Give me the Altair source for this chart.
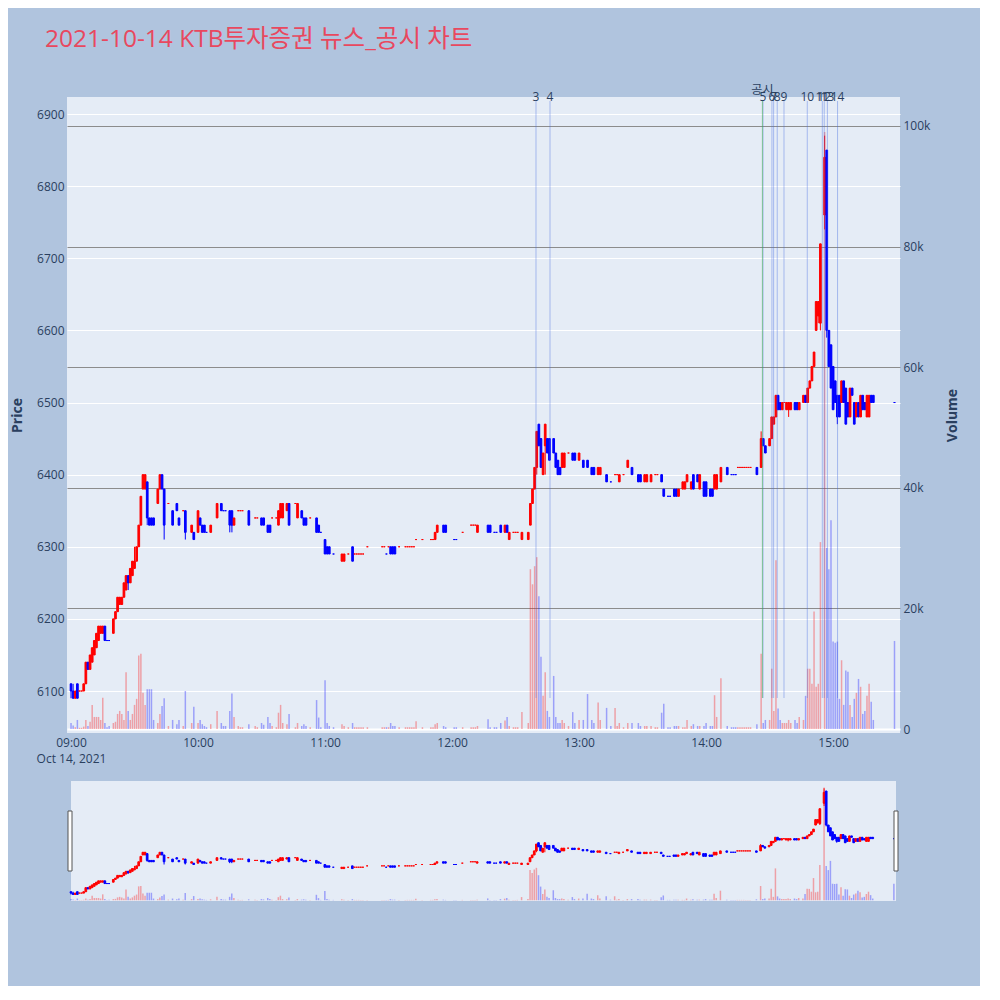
import altair as alt
import pandas as pd

TITLE = "2021-10-14 KTB투자증권 뉴스_공시 차트"

# minutes after 09:00 of each one-minute candle
minute = [
    0, 1, 2, 3, 4, 5, 6, 7, 8, 9,
    10, 11, 12, 13, 14, 15, 16, 17, 18, 20,
    21, 22, 23, 24, 25, 26, 27, 28, 29, 30,
    31, 32, 33, 34, 35, 36, 37, 38, 39, 41,
    42, 43, 44, 46, 48, 50, 51, 53, 54, 57,
    58, 60, 61, 62, 63, 64, 66, 69, 71, 72,
    73, 75, 76, 77, 79, 80, 81, 84, 87, 88,
    90, 91, 93, 94, 95, 97, 98, 99, 100, 102,
    103, 106, 107, 109, 110, 111, 113, 116, 117, 118,
    120, 121, 122, 124, 128, 129, 131, 133, 134, 135,
    136, 137, 138, 140, 147, 148, 149, 150, 151, 152,
    153, 155, 158, 159, 160, 161, 162, 163, 166, 170,
    171, 172, 173, 176, 177, 181, 182, 185, 189, 190,
    191, 192, 197, 198, 200, 201, 203, 205, 206, 207,
    209, 210, 211, 213, 216, 217, 218, 219, 220, 221,
    222, 223, 224, 225, 226, 228, 229, 230, 231, 232,
    233, 235, 237, 238, 240, 242, 244, 246, 247, 249,
    250, 253, 255, 257, 258, 259, 261, 263, 265, 268,
    269, 271, 272, 274, 276, 277, 279, 280, 282, 283,
    285, 286, 287, 289, 290, 291, 293, 294, 296, 297,
    299, 300, 302, 303, 304, 305, 307, 310, 312, 313,
    314, 315, 316, 317, 318, 319, 320, 321, 324, 326,
    327, 328, 330, 331, 332, 333, 334, 335, 336, 337,
    338, 339, 340, 342, 343, 344, 346, 347, 348, 349,
    350, 351, 352, 353, 354, 356, 357, 358, 359, 360,
    361, 362, 363, 364, 365, 366, 367, 368, 369, 370,
    371, 372, 373, 374, 375, 376, 377, 378, 379, 389,
]

open_ = [
    6110, 6100, 6090, 6110, 6100, 6100, 6100, 6110, 6140, 6130,
    6140, 6150, 6160, 6170, 6180, 6180, 6190, 6170, 6170, 6180,
    6200, 6210, 6220, 6220, 6230, 6240, 6260, 6250, 6260, 6270,
    6280, 6300, 6330, 6380, 6380, 6390, 6340, 6340, 6340, 6360,
    6380, 6400, 6380, 6360, 6350, 6360, 6340, 6350, 6350, 6320,
    6320, 6320, 6340, 6330, 6330, 6320, 6320, 6340, 6360, 6350,
    6350, 6350, 6350, 6330, 6350, 6350, 6350, 6350, 6340, 6340,
    6340, 6340, 6330, 6330, 6340, 6340, 6330, 6340, 6340, 6350,
    6360, 6360, 6340, 6350, 6340, 6340, 6340, 6340, 6330, 6320,
    6310, 6300, 6300, 6290, 6280, 6280, 6290, 6300, 6290, 6290,
    6290, 6290, 6290, 6300, 6300, 6300, 6290, 6300, 6300, 6300,
    6300, 6300, 6300, 6300, 6300, 6300, 6300, 6310, 6310, 6310,
    6310, 6310, 6320, 6330, 6330, 6310, 6310, 6320, 6330, 6330,
    6330, 6320, 6330, 6330, 6320, 6320, 6330, 6320, 6330, 6310,
    6320, 6320, 6320, 6310, 6310, 6330, 6360, 6380, 6410, 6470,
    6450, 6400, 6440, 6450, 6450, 6450, 6430, 6420, 6410, 6410,
    6410, 6430, 6430, 6430, 6420, 6420, 6420, 6410, 6410, 6400,
    6400, 6400, 6390, 6400, 6400, 6390, 6400, 6410, 6410, 6400,
    6400, 6390, 6390, 6390, 6400, 6400, 6400, 6380, 6370, 6370,
    6380, 6380, 6370, 6380, 6380, 6390, 6380, 6400, 6400, 6380,
    6390, 6390, 6380, 6380, 6380, 6380, 6390, 6410, 6400, 6400,
    6400, 6410, 6410, 6410, 6410, 6410, 6410, 6410, 6410, 6410,
    6450, 6440, 6440, 6450, 6470, 6480, 6510, 6500, 6490, 6500,
    6490, 6490, 6490, 6500, 6500, 6490, 6500, 6510, 6500, 6520,
    6530, 6550, 6600, 6620, 6610, 6760, 6850, 6600, 6580, 6550,
    6530, 6510, 6510, 6500, 6530, 6520, 6500, 6480, 6520, 6500,
    6480, 6500, 6480, 6510, 6500, 6480, 6480, 6510, 6510, 6500,
]

high = [
    6110, 6110, 6100, 6110, 6100, 6100, 6110, 6140, 6140, 6150,
    6160, 6170, 6180, 6190, 6190, 6190, 6190, 6170, 6170, 6200,
    6210, 6230, 6230, 6230, 6250, 6260, 6260, 6270, 6280, 6300,
    6300, 6330, 6370, 6400, 6400, 6390, 6340, 6340, 6340, 6380,
    6400, 6400, 6380, 6360, 6350, 6360, 6340, 6350, 6350, 6330,
    6320, 6350, 6340, 6330, 6330, 6320, 6330, 6360, 6360, 6350,
    6350, 6350, 6350, 6340, 6350, 6350, 6350, 6350, 6340, 6340,
    6340, 6340, 6330, 6330, 6340, 6340, 6350, 6360, 6360, 6360,
    6360, 6360, 6360, 6350, 6340, 6340, 6340, 6340, 6330, 6320,
    6310, 6300, 6300, 6290, 6290, 6290, 6290, 6300, 6290, 6290,
    6290, 6290, 6290, 6300, 6300, 6300, 6290, 6300, 6300, 6300,
    6300, 6300, 6300, 6300, 6300, 6300, 6300, 6310, 6310, 6310,
    6310, 6320, 6330, 6330, 6330, 6310, 6310, 6320, 6330, 6330,
    6330, 6330, 6330, 6330, 6320, 6320, 6330, 6330, 6330, 6320,
    6320, 6320, 6320, 6320, 6320, 6360, 6380, 6410, 6460, 6470,
    6450, 6430, 6470, 6450, 6450, 6450, 6430, 6420, 6410, 6430,
    6430, 6430, 6430, 6430, 6430, 6420, 6420, 6410, 6410, 6410,
    6410, 6400, 6390, 6400, 6400, 6400, 6400, 6420, 6410, 6400,
    6400, 6400, 6400, 6400, 6400, 6400, 6400, 6380, 6370, 6370,
    6380, 6380, 6380, 6390, 6390, 6400, 6390, 6400, 6400, 6400,
    6390, 6390, 6380, 6380, 6400, 6400, 6410, 6410, 6400, 6400,
    6400, 6410, 6410, 6410, 6410, 6410, 6410, 6410, 6410, 6460,
    6450, 6440, 6450, 6480, 6480, 6510, 6510, 6500, 6500, 6500,
    6500, 6500, 6500, 6500, 6500, 6500, 6510, 6510, 6520, 6530,
    6550, 6570, 6640, 6640, 6720, 6870, 6850, 6600, 6580, 6550,
    6530, 6510, 6510, 6530, 6530, 6520, 6500, 6520, 6520, 6500,
    6500, 6500, 6510, 6510, 6500, 6510, 6510, 6510, 6510, 6500,
]

low = [
    6090, 6090, 6090, 6090, 6100, 6100, 6100, 6110, 6130, 6130,
    6140, 6150, 6160, 6170, 6180, 6180, 6170, 6170, 6170, 6180,
    6200, 6210, 6220, 6220, 6230, 6240, 6240, 6250, 6260, 6270,
    6280, 6300, 6330, 6380, 6380, 6330, 6330, 6330, 6330, 6360,
    6380, 6380, 6310, 6360, 6330, 6350, 6330, 6350, 6310, 6320,
    6310, 6320, 6330, 6320, 6320, 6320, 6320, 6340, 6350, 6350,
    6350, 6320, 6320, 6330, 6350, 6350, 6350, 6330, 6340, 6340,
    6330, 6330, 6320, 6320, 6340, 6340, 6330, 6340, 6340, 6350,
    6330, 6360, 6340, 6340, 6330, 6330, 6340, 6320, 6320, 6320,
    6290, 6290, 6290, 6290, 6280, 6280, 6290, 6280, 6290, 6290,
    6290, 6290, 6290, 6300, 6300, 6300, 6290, 6300, 6290, 6290,
    6290, 6300, 6300, 6300, 6300, 6300, 6300, 6310, 6310, 6310,
    6310, 6310, 6320, 6320, 6320, 6310, 6310, 6320, 6330, 6330,
    6330, 6320, 6320, 6320, 6320, 6320, 6320, 6320, 6320, 6310,
    6320, 6320, 6320, 6310, 6310, 6330, 6360, 6380, 6400, 6440,
    6410, 6400, 6400, 6430, 6420, 6430, 6410, 6400, 6400, 6410,
    6410, 6430, 6420, 6420, 6420, 6410, 6410, 6400, 6400, 6400,
    6400, 6390, 6390, 6400, 6400, 6390, 6400, 6410, 6400, 6390,
    6390, 6390, 6390, 6390, 6400, 6400, 6390, 6370, 6370, 6370,
    6370, 6370, 6370, 6380, 6380, 6390, 6380, 6380, 6390, 6380,
    6370, 6370, 6370, 6370, 6380, 6380, 6390, 6400, 6400, 6400,
    6400, 6410, 6410, 6410, 6410, 6410, 6410, 6410, 6400, 6410,
    6440, 6430, 6440, 6450, 6470, 6480, 6490, 6490, 6490, 6500,
    6490, 6480, 6490, 6490, 6490, 6490, 6500, 6500, 6500, 6520,
    6530, 6550, 6600, 6610, 6600, 6740, 6590, 6550, 6520, 6490,
    6500, 6470, 6480, 6500, 6500, 6470, 6480, 6480, 6510, 6470,
    6480, 6480, 6480, 6490, 6490, 6480, 6480, 6500, 6500, 6500,
]

close = [
    6100, 6090, 6100, 6090, 6100, 6100, 6110, 6140, 6130, 6150,
    6160, 6170, 6180, 6190, 6190, 6190, 6170, 6170, 6170, 6200,
    6210, 6230, 6230, 6230, 6250, 6260, 6250, 6270, 6280, 6280,
    6300, 6330, 6370, 6400, 6400, 6340, 6330, 6330, 6330, 6380,
    6400, 6380, 6330, 6360, 6330, 6350, 6330, 6350, 6320, 6330,
    6310, 6350, 6330, 6320, 6320, 6320, 6330, 6360, 6350, 6350,
    6350, 6330, 6330, 6340, 6350, 6350, 6350, 6330, 6340, 6340,
    6330, 6330, 6320, 6320, 6340, 6340, 6350, 6360, 6360, 6360,
    6330, 6360, 6360, 6340, 6330, 6330, 6340, 6320, 6320, 6320,
    6290, 6290, 6290, 6290, 6290, 6290, 6290, 6280, 6290, 6290,
    6290, 6290, 6290, 6300, 6300, 6300, 6290, 6300, 6290, 6290,
    6290, 6300, 6300, 6300, 6300, 6300, 6300, 6310, 6310, 6310,
    6310, 6320, 6330, 6320, 6320, 6310, 6310, 6320, 6330, 6330,
    6330, 6330, 6320, 6320, 6320, 6320, 6320, 6330, 6320, 6320,
    6320, 6320, 6320, 6320, 6320, 6360, 6380, 6410, 6460, 6440,
    6410, 6430, 6470, 6430, 6420, 6430, 6410, 6400, 6400, 6430,
    6430, 6430, 6420, 6420, 6430, 6410, 6410, 6400, 6400, 6410,
    6410, 6390, 6390, 6400, 6400, 6400, 6400, 6420, 6400, 6390,
    6390, 6400, 6400, 6400, 6400, 6400, 6390, 6370, 6370, 6370,
    6370, 6370, 6380, 6390, 6390, 6400, 6390, 6380, 6390, 6400,
    6370, 6370, 6370, 6370, 6400, 6400, 6410, 6400, 6400, 6400,
    6400, 6410, 6410, 6410, 6410, 6410, 6410, 6410, 6400, 6450,
    6440, 6430, 6450, 6480, 6480, 6510, 6490, 6490, 6500, 6500,
    6500, 6500, 6500, 6490, 6490, 6500, 6510, 6500, 6520, 6530,
    6550, 6570, 6640, 6640, 6720, 6840, 6600, 6550, 6520, 6490,
    6500, 6480, 6480, 6530, 6500, 6470, 6480, 6520, 6510, 6470,
    6500, 6480, 6510, 6490, 6490, 6510, 6510, 6500, 6500, 6500,
]

volume = [
    1000, 600, 300, 1500, 200, 200, 400, 1500, 500, 1200,
    4000, 2000, 2000, 2000, 1500, 5200, 1000, 300, 500, 1000,
    1200, 2500, 3000, 2500, 1500, 9400, 3000, 1500, 2500, 4000,
    5000, 12200, 12500, 6000, 4000, 6600, 6600, 6600, 1500, 1000,
    2500, 3800, 5100, 500, 1500, 800, 1500, 500, 6300, 1000,
    3700, 1000, 1500, 800, 500, 300, 800, 3000, 1000, 500,
    500, 3000, 5900, 2000, 500, 300, 300, 800, 500, 300,
    1000, 700, 2000, 1000, 500, 300, 2700, 4000, 1000, 800,
    2500, 300, 1000, 500, 800, 500, 300, 4800, 1900, 300,
    8100, 1000, 500, 300, 800, 500, 300, 1000, 300, 300,
    300, 300, 300, 300, 300, 300, 300, 300, 1000, 500,
    500, 300, 300, 300, 300, 300, 300, 1300, 300, 300,
    300, 800, 1000, 500, 300, 300, 300, 300, 300, 300,
    300, 500, 1600, 300, 300, 300, 1000, 1400, 2000, 500,
    300, 300, 300, 2800, 1000, 26500, 24000, 27000, 28500, 22000,
    12000, 5500, 9400, 3000, 2000, 8800, 2000, 1000, 1000, 1500,
    1000, 500, 2800, 1000, 1500, 1500, 5800, 1500, 1000, 4400,
    1500, 3500, 500, 3500, 500, 1000, 300, 1000, 1000, 1000,
    500, 500, 500, 500, 300, 300, 2700, 4200, 300, 300,
    500, 500, 500, 300, 300, 1500, 500, 800, 500, 500,
    500, 1000, 500, 500, 5600, 2000, 8400, 500, 300, 300,
    300, 300, 300, 300, 300, 300, 300, 300, 800, 12500,
    1000, 1500, 1500, 10000, 3000, 28000, 3400, 1500, 1000, 1000,
    1000, 1500, 1000, 1500, 1000, 2000, 1500, 5500, 10000, 10000,
    7500, 19500, 7000, 7500, 31000, 99000, 30000, 26500, 34600, 14500,
    14300, 14500, 5000, 11400, 4000, 9700, 9500, 4000, 2000, 5000,
    6000, 8300, 7000, 2500, 3000, 5500, 7500, 4500, 1500, 14600,
]

# unchanged (open == close) candles that are drawn in the falling colour
blue_doji = [17, 18, 64, 72, 73, 118, 124, 149, 181, 182, 200, 201,
             255, 282, 283, 312, 313, 314, 389]

news_times = ["12:39:39", "12:46:16", "14:26:54", "14:31:06", "14:31:54", "14:33:36",
              "14:36:48", "14:47:48", "14:54:54", "14:55:48", "14:57:18", "15:02:06"]
news_labels = ["3", "4", "5", "6", "7", "8", "9", "10", "11", "12", "13", "14"]
disclosure_times = ["14:26:36"]
disclosure_labels = ["공시"]

price_ticks = [6100, 6200, 6300, 6400, 6500, 6600, 6700, 6800, 6900]
volume_ticks = [0, 20000, 40000, 60000, 80000, 100000]
hour_ticks = [9, 10, 11, 12, 13, 14, 15]

PLOT_BG = "#E5ECF6"
PAGE_BG = "#B0C4DE"
INK = "#2a3f5f"
FONT = "Open Sans, Noto Sans CJK KR"

start = pd.Timestamp("2021-10-14 09:00:00")
df = pd.DataFrame({"minute": minute, "open": open_, "high": high, "low": low,
                   "close": close, "volume": volume})
df["time"] = start + pd.to_timedelta(df["minute"], unit="m")
df["dir"] = [
    "up" if c > o else ("down" if c < o else ("down" if m in blue_doji else "up"))
    for m, o, c in zip(df["minute"], df["open"], df["close"])
]

news = pd.DataFrame({"time": pd.to_datetime(["2021-10-14 " + t for t in news_times]),
                     "label": news_labels})
disc = pd.DataFrame({"time": pd.to_datetime(["2021-10-14 " + t for t in disclosure_times]),
                     "label": disclosure_labels})


def dt(h, m, s=0):
    return alt.DateTime(year=2021, month=10, date=14, hours=h, minutes=m, seconds=s)


color_scale = alt.Scale(domain=["up", "down"], range=["#FF0000", "#0000FF"])
color = alt.Color("dir:N", scale=color_scale, legend=None)
stroke = alt.Stroke("dir:N", scale=color_scale, legend=None)


def price_volume(x_domain, axes):
    x_axis = alt.Axis(
        values=[dt(h, 0) for h in hour_ticks],
        labelExpr="hours(datum.value) == 9 ? ['09:00', 'Oct 14, 2021'] : timeFormat(datum.value, '%H:%M')",
        labelLineHeight=16, labelPadding=4, grid=False, domain=False, ticks=False,
        labelOverlap=False,
    ) if axes else None
    x = alt.X("time:T", scale=alt.Scale(domain=x_domain, nice=False, padding=0),
              axis=x_axis, title=None)
    price_scale = alt.Scale(domain=[6041.8, 6923.6], nice=False, zero=False)
    vol_scale = alt.Scale(domain=[-663, 104809], nice=False, zero=False)
    price_axis = alt.Axis(
        orient="left", values=price_ticks, format="d", grid=True, gridColor="white",
        gridWidth=1, domain=False, ticks=False, labelPadding=3, title="Price",
        titleFontWeight="bold", titleFontSize=14, titlePadding=12,
    ) if axes else None
    vol_axis = alt.Axis(
        orient="right", values=volume_ticks, grid=True,
        labelExpr="datum.value == 0 ? '0' : format(datum.value / 1000, 'd') + 'k'",
        gridColor={"condition": {"test": "datum.value === 0", "value": "white"}, "value": "#8c8c8c"},
        gridWidth={"condition": {"test": "datum.value === 0", "value": 2}, "value": 1},
        domain=False, ticks=False, labelPadding=3, title="Volume", titleAngle=270,
        titleFontWeight="bold", titleFontSize=14, titlePadding=30,
    ) if axes else None

    base = alt.Chart(df)
    vol = base.mark_bar(size=1.5, opacity=0.32).encode(
        x=x, y=alt.Y("volume:Q", scale=vol_scale, axis=vol_axis, title="Volume"),
        y2=alt.datum(0), color=color)
    wick = base.mark_rule(strokeWidth=1).encode(
        x=x, y=alt.Y("low:Q", scale=price_scale, axis=price_axis, title="Price"),
        y2="high:Q", color=color)
    body = base.mark_bar(size=1.7, strokeWidth=1).encode(
        x=x, y=alt.Y("open:Q", scale=price_scale, axis=price_axis, title="Price"),
        y2="close:Q", color=color, stroke=stroke)
    return vol, alt.layer(wick, body)


vol_main, price_main = price_volume([dt(8, 58, 6), dt(15, 31, 36)], True)

news_rules = alt.Chart(news).mark_rule(color="#4169E1", opacity=0.4, strokeWidth=1).encode(
    x="time:T", y=alt.value(4), y2=alt.value(601))
disc_rule = alt.Chart(disc).mark_rule(color="#3CB043", opacity=0.55, strokeWidth=1).encode(
    x="time:T", y=alt.value(4), y2=alt.value(601))
news_text = alt.Chart(news).mark_text(fontSize=12, color=INK, baseline="middle", font=FONT).encode(
    x="time:T", y=alt.value(0), text="label:N")
disc_text = alt.Chart(disc).mark_text(fontSize=12, color=INK, baseline="middle", font=FONT).encode(
    x="time:T", y=alt.value(-7), text="label:N")

main = alt.layer(vol_main, price_main, news_rules, disc_rule, news_text, disc_text).resolve_scale(
    y="independent"
).properties(
    width=833, height=636,
    title=alt.TitleParams(TITLE, anchor="start", frame="group", dx=-22, offset=32,
                          fontSize=24.5, font=FONT, color="#E8485F", fontWeight="normal"),
)

vol_s, price_s = price_volume([dt(9, 0), dt(15, 30)], False)
handle_df = pd.DataFrame({"k": [0]})
handle_l = alt.Chart(handle_df).mark_rect(fill="white", stroke="#555555", strokeWidth=1).encode(
    x=alt.value(-3), x2=alt.value(1), y=alt.value(30), y2=alt.value(90))
handle_r = alt.Chart(handle_df).mark_rect(fill="white", stroke="#555555", strokeWidth=1).encode(
    x=alt.value(823), x2=alt.value(827), y=alt.value(30), y2=alt.value(90))
slider = alt.layer(vol_s, price_s, handle_l, handle_r).resolve_scale(y="independent").properties(
    width=825, height=120)

chart = alt.vconcat(main, slider, spacing=48, bounds="flush", center=True).properties(
    background=PAGE_BG,
    padding={"left": 2, "top": 18, "right": 20, "bottom": 85},
).configure_view(fill=PLOT_BG, stroke=None).configure_axis(
    labelFont="Open Sans", labelFontSize=12, labelColor=INK,
    titleFont="Open Sans", titleColor=INK,
)

chart.save("out.html", embed_options={"renderer": "svg", "actions": False})
